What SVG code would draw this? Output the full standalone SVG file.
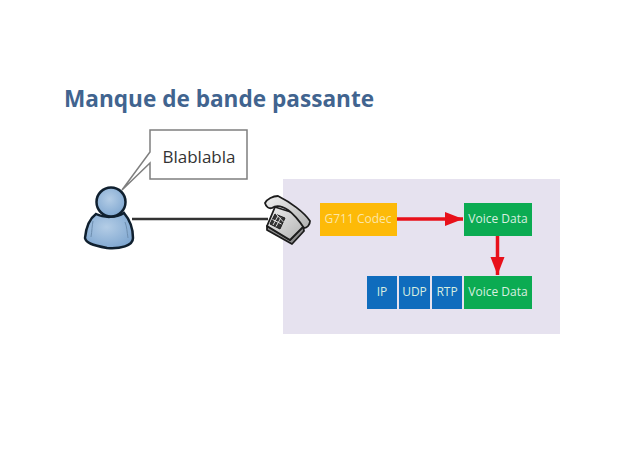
<svg xmlns="http://www.w3.org/2000/svg" width="638" height="452" viewBox="0 0 638 452">
<defs>
<radialGradient id="skin" cx="45%" cy="40%" r="65%"><stop offset="0" stop-color="#b4cde6"/><stop offset="1" stop-color="#7ea6d0"/></radialGradient>
<linearGradient id="ph" x1="0" y1="0" x2="1" y2="1"><stop offset="0" stop-color="#f0f0f0"/><stop offset="1" stop-color="#b0b0b0"/></linearGradient>
<marker id="ah" markerUnits="userSpaceOnUse" markerWidth="19" markerHeight="15" refX="18" refY="7" orient="auto"><path d="M0 0L18 7L0 14Z" fill="#e8101a"/></marker>
</defs>
<style>
text{font-family:"Open Sans","Noto Sans",sans-serif}
.box{stroke:none}
.lbl{font-size:12px;text-anchor:middle;fill:#d8efe0}
.blue{fill:#0f6cbd}.green{fill:#0bab52}
.arrow{fill:none;stroke:#e8101a;stroke-width:3.500;marker-end:url(#ah)}
</style>
<rect width="638" height="452" fill="#fff"/>
<text id="title" x="64" y="107" font-size="22.600" font-weight="700" fill="#41648f">Manque de bande passante</text>
<rect id="panel" x="283" y="179" width="277" height="155" fill="#e6e2ef"/>
<g id="connectors">
<line x1="132" y1="219" x2="268" y2="219" stroke="#333" stroke-width="2.500"/>
<line x1="397" y1="219" x2="463" y2="219" class="arrow"/>
<line x1="497.500" y1="236" x2="497.500" y2="275" class="arrow"/>
</g>
<g id="speech">
<path d="M150 130H247V179H150V163L122 190L150 152Z" fill="#fff" stroke="#7f7f7f" stroke-width="1.500"/>
<text x="199" y="163" font-size="17" text-anchor="middle" fill="#333">Blablabla</text>
</g>
<g id="user" stroke="#10202f" stroke-width="2.500">
<path d="M96 214C89 219 86 228 85 238C86 243 92 245 107 248C120 249 133 246 133 238C133 228 130 220 124 213C116 218 104 218 96 214Z" fill="url(#skin)"/>
<path d="M93 221C92 226 92 231 91 237M125 222C127 227 127 232 128 238" fill="none" stroke="#6f8fb0" stroke-width="1"/>
<circle cx="111" cy="202" r="14.500" fill="url(#skin)"/>
</g>
<g id="phone" stroke="#1c1c1c" stroke-width="1.800" stroke-linejoin="round">
<path d="M267 230L292 244L304 231L303 226L290 240L267 226Z" fill="#8c8c8c"/>
<path d="M275 207L267 226L290 240L304 226L294 213Z" fill="url(#ph)"/>
<path d="M265 203C267 199 273 196 278 196C290 202 304 212 310 221C310 225 307 228 304 228C300 222 295 215 288 210C282 206 276 205 272 208C269 209 266 207 265 203Z" fill="url(#ph)"/>
<path d="M275 214L285 218L280 229L270 224Z" fill="#333" stroke-width="1"/>
<path d="M278 216L273 225M281 217.500L276 226.500M275.500 213.500L283.500 222M272.500 219.500L281.500 224" stroke="#ddd" stroke-width="1" fill="none"/>
</g>
<g id="codec"><rect class="box" x="320" y="203" width="77" height="33" fill="#fdba08"/><text class="lbl" x="358" y="223" style="fill:#fbe6a8">G711 Codec</text></g>
<g id="voice1"><rect class="box green" x="464" y="203" width="68" height="33"/><text class="lbl" x="498" y="223">Voice Data</text></g>
<g id="ip"><rect class="box blue" x="367" y="276" width="30" height="33"/><text class="lbl" x="382" y="296">IP</text></g>
<g id="udp"><rect class="box blue" x="399" y="276" width="31" height="33"/><text class="lbl" x="414.500" y="296">UDP</text></g>
<g id="rtp"><rect class="box blue" x="432" y="276" width="30" height="33"/><text class="lbl" x="447" y="296">RTP</text></g>
<g id="voice2"><rect class="box green" x="464" y="276" width="68" height="33"/><text class="lbl" x="498" y="296">Voice Data</text></g>
</svg>
